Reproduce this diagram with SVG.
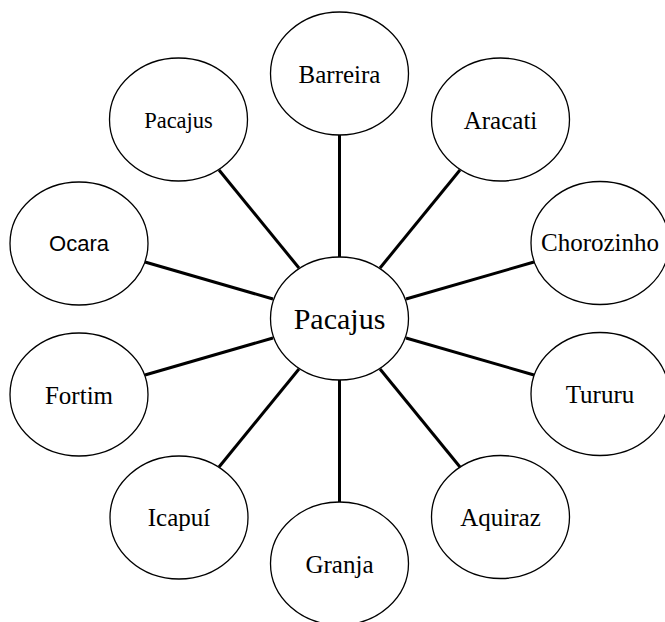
<svg xmlns="http://www.w3.org/2000/svg" width="665" height="622" viewBox="0 0 665 622">
<style>
.n ellipse{fill:#fff;stroke:#000;stroke-width:1.3}
.n text{font-family:"Liberation Serif","Times New Roman",serif;font-size:25px;text-anchor:middle;fill:#000}
#connectors line{stroke:#000;stroke-width:3}
</style>
<rect width="665" height="622" fill="#fff"/>
<g id="connectors">
<line x1="339.5" y1="135" x2="339.5" y2="257"/>
<line x1="339.5" y1="380" x2="339.5" y2="502"/>
<line x1="219" y1="170" x2="299" y2="268"/>
<line x1="460" y1="170" x2="380" y2="268"/>
<line x1="145" y1="262" x2="273" y2="299"/>
<line x1="534" y1="262" x2="406" y2="299"/>
<line x1="145" y1="375" x2="273" y2="338"/>
<line x1="534" y1="375" x2="406" y2="338"/>
<line x1="219" y1="467" x2="299" y2="369"/>
<line x1="460" y1="467" x2="380" y2="369"/>
</g>
<g id="center" class="n"><ellipse cx="339.5" cy="318.5" rx="69" ry="61.5"/><text x="339.5" y="329" style="font-size:30px">Pacajus</text></g>
<g id="barreira" class="n"><ellipse cx="339.5" cy="73.5" rx="69" ry="61.5"/><text x="339.5" y="83">Barreira</text></g>
<g id="granja" class="n"><ellipse cx="339.5" cy="563.5" rx="69" ry="61.5"/><text x="339.5" y="572.5">Granja</text></g>
<g id="pacajus" class="n"><ellipse cx="178.5" cy="119.5" rx="69" ry="61.5"/><text x="178.5" y="127.5" style="font-size:22.5px">Pacajus</text></g>
<g id="aracati" class="n"><ellipse cx="500.5" cy="119.5" rx="69" ry="61.5"/><text x="500.5" y="128.5">Aracati</text></g>
<g id="ocara" class="n"><ellipse cx="79" cy="243.5" rx="69" ry="61.5"/><text x="79" y="251" style="font-family:'Liberation Sans',Arial,sans-serif;font-size:22px">Ocara</text></g>
<g id="chorozinho" class="n"><ellipse cx="600" cy="243" rx="69" ry="61.5"/><text x="600" y="251">Chorozinho</text></g>
<g id="fortim" class="n"><ellipse cx="79" cy="394.5" rx="69" ry="61.5"/><text x="79" y="403.5">Fortim</text></g>
<g id="tururu" class="n"><ellipse cx="600" cy="394" rx="69" ry="61.5"/><text x="600" y="402.5">Tururu</text></g>
<g id="icapui" class="n"><ellipse cx="179" cy="517.5" rx="69" ry="61.5"/><text x="179" y="526">Icapuí</text></g>
<g id="aquiraz" class="n"><ellipse cx="500.5" cy="517" rx="69" ry="61.5"/><text x="500.5" y="525.5">Aquiraz</text></g>
</svg>
